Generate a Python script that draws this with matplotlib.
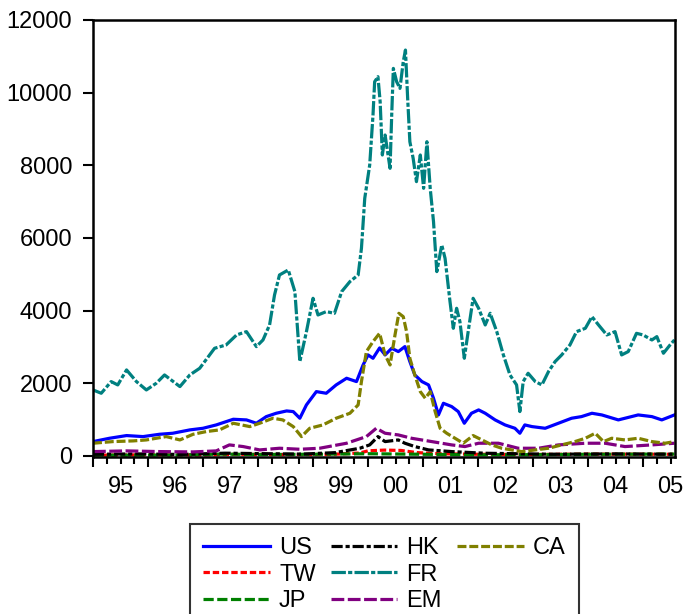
import matplotlib
matplotlib.use("Agg")
import matplotlib.pyplot as plt
from matplotlib.lines import Line2D

plt.rcParams['font.family'] = ['Liberation Sans', 'DejaVu Sans']

# values (fractional year, index level)
us_t = [1995.00, 1995.30, 1995.61, 1995.91, 1996.21, 1996.45, 1996.76, 1997.00, 1997.24, 1997.55,
        1997.79, 1997.97, 1998.15, 1998.33, 1998.52, 1998.64, 1998.76, 1998.88, 1999.06, 1999.24,
        1999.42, 1999.61, 1999.79, 1999.91, 2000.00, 2000.09, 2000.21, 2000.31, 2000.43, 2000.55,
        2000.67, 2000.76, 2000.85, 2000.98, 2001.10, 2001.19, 2001.28, 2001.37, 2001.52, 2001.64,
        2001.75, 2001.88, 2002.01, 2002.13, 2002.31, 2002.49, 2002.67, 2002.76, 2002.85, 2002.98,
        2003.22, 2003.46, 2003.70, 2003.88, 2004.07, 2004.25, 2004.55, 2004.91, 2005.16, 2005.34,
        2005.57]
us_v = [394, 486, 560, 532, 596, 624, 716, 761, 853, 1009,
        991, 899, 1082, 1174, 1238, 1220, 1037, 1404, 1770, 1725,
        1954, 2138, 2046, 2504, 2780, 2688, 2972, 2780, 2963, 2872,
        3009, 2596, 2229, 2046, 1954, 1587, 1128, 1449, 1358, 1220,
        899, 1174, 1266, 1174, 991, 853, 761, 624, 853, 807,
        761, 899, 1037, 1082, 1174, 1128, 991, 1128, 1082, 991,
        1128]

tw_t = [1995.0, 1996.0, 1997.0, 1997.6, 1998.5, 1999.3, 1999.85, 2000.0, 2000.3, 2000.6,
        2000.9, 2001.3, 2002.0, 2003.0, 2004.0, 2005.57]
tw_v = [20, 30, 25, 45, 35, 40, 80, 140, 160, 150,
        90, 60, 45, 40, 50, 45]

jp_t = [1995.0, 1996.5, 1997.3, 1998.0, 1999.0, 2000.0, 2001.0, 2002.0, 2003.0, 2004.0, 2005.57]
jp_v = [20, 25, 50, 40, 45, 60, 45, 30, 35, 45, 50]

hk_t = [1995.0, 1995.8, 1996.6, 1997.4, 1998.2, 1998.8, 1999.4, 1999.85, 2000.03, 2000.18,
        2000.31, 2000.55, 2000.67, 2000.85, 2001.10, 2001.52, 2002.13, 2003.34, 2004.5, 2005.57]
hk_v = [45, 55, 40, 75, 60, 50, 90, 211, 303, 532,
        394, 440, 349, 257, 165, 119, 73, 46, 55, 46]

fr_t = [1995.00, 1995.15, 1995.33, 1995.45, 1995.61, 1995.79, 1995.97, 1996.15, 1996.30, 1996.58,
        1996.76, 1996.94, 1997.21, 1997.42, 1997.61, 1997.79, 1997.97, 1998.09, 1998.21, 1998.30,
        1998.39, 1998.55, 1998.67, 1998.76, 1998.88, 1999.00, 1999.09, 1999.24, 1999.39, 1999.52,
        1999.67, 1999.82, 1999.88, 1999.94, 2000.03, 2000.09, 2000.12, 2000.18, 2000.22, 2000.26,
        2000.31, 2000.40, 2000.43, 2000.46, 2000.52, 2000.58, 2000.64, 2000.68, 2000.72, 2000.76,
        2000.82, 2000.88, 2000.95, 2001.01, 2001.07, 2001.13, 2001.19, 2001.25, 2001.34, 2001.40,
        2001.49, 2001.55, 2001.61, 2001.67, 2001.75, 2001.82, 2001.91, 2002.01, 2002.13, 2002.22,
        2002.34, 2002.46, 2002.58, 2002.70, 2002.76, 2002.82, 2002.91, 2003.04, 2003.16, 2003.28,
        2003.40, 2003.52, 2003.67, 2003.79, 2003.95, 2004.07, 2004.19, 2004.34, 2004.49, 2004.61,
        2004.73, 2004.88, 2005.00, 2005.16, 2005.25, 2005.37, 2005.49, 2005.57]
fr_v = [1816, 1725, 2046, 1954, 2367, 2046, 1816, 2000, 2229, 1908,
        2229, 2413, 2963, 3055, 3330, 3421, 3009, 3192, 3605, 4431,
        4981, 5119, 4522, 2596, 3421, 4339, 3880, 3972, 3926, 4522,
        4798, 4981, 5715, 7091, 8008, 9384, 10301, 10439, 9751, 8284,
        8834, 7917, 9384, 10668, 10301, 10118, 10852, 11173, 9843, 8650,
        8192, 7550, 8284, 7367, 8650, 7367, 6449, 5073, 5807, 5440,
        4247, 3513, 4064, 3697, 2688, 3421, 4339, 4064, 3605, 3926,
        3421, 2780, 2229, 1954, 1220, 2046, 2275, 2046, 1954, 2321,
        2596, 2780, 3055, 3421, 3513, 3834, 3605, 3330, 3421, 2780,
        2872, 3375, 3330, 3192, 3284, 2826, 3055, 3192]

em_t = [1995.00, 1995.61, 1996.21, 1996.82, 1997.24, 1997.48, 1997.73, 1998.03, 1998.39, 1998.76,
        1999.12, 1999.61, 1999.97, 2000.15, 2000.31, 2000.55, 2000.79, 2001.16, 2001.52, 2001.76,
        2002.01, 2002.37, 2002.73, 2003.10, 2003.46, 2003.95, 2004.31, 2004.67, 2005.16, 2005.57]
em_v = [119, 138, 119, 110, 138, 303, 257, 165, 211, 183,
        211, 349, 532, 761, 624, 578, 486, 394, 303, 257,
        349, 349, 211, 211, 303, 349, 349, 257, 303, 349]

ca_t = [1995.00, 1995.36, 1995.73, 1995.97, 1996.33, 1996.58, 1996.82, 1997.06, 1997.30, 1997.55,
        1997.85, 1998.03, 1998.27, 1998.45, 1998.64, 1998.79, 1998.94, 1999.18, 1999.42, 1999.67,
        1999.82, 1999.88, 1999.97, 2000.09, 2000.21, 2000.31, 2000.40, 2000.49, 2000.56, 2000.64,
        2000.70, 2000.76, 2000.85, 2000.95, 2001.04, 2001.13, 2001.22, 2001.31, 2001.43, 2001.58,
        2001.73, 2001.91, 2002.07, 2002.25, 2002.43, 2002.61, 2002.79, 2003.04, 2003.28, 2003.52,
        2003.76, 2003.95, 2004.13, 2004.28, 2004.43, 2004.67, 2004.91, 2005.16, 2005.40, 2005.57]
ca_v = [349, 394, 413, 440, 532, 440, 596, 670, 716, 899,
        807, 899, 1037, 991, 807, 532, 761, 853, 1037, 1174,
        1404, 2046, 2872, 3146, 3376, 2780, 2504, 3330, 3926, 3834,
        3421, 2688, 2229, 1770, 1587, 1770, 1220, 761, 624, 486,
        349, 560, 440, 303, 211, 165, 119, 165, 211, 303,
        394, 486, 624, 394, 486, 440, 486, 394, 349, 394]

years = list(range(1995, 2006))
year_labels = ['95', '96', '97', '98', '99', '00', '01', '02', '03', '04', '05']

fig = plt.figure(figsize=(6.85, 6.14), dpi=100)
ax = fig.add_axes([93 / 685, 1 - 457 / 614, (675 - 93) / 685, (457 - 20) / 614])

lw = 2.3
ax.plot(us_t, us_v, color='#0000ff', lw=lw, label='US')
ax.plot(tw_t, tw_v, color='#ff0000', lw=lw, dashes=(2.0, 0.9), label='TW')
ax.plot(jp_t, jp_v, color='#008000', lw=lw, dashes=(3.2, 1.1), label='JP')
ax.plot(hk_t, hk_v, color='black', lw=lw, dashes=(3.5, 0.9, 1.3, 0.9), label='HK')
ax.plot(fr_t, fr_v, color='#008080', lw=lw, dashes=(4.5, 0.7, 1.3, 0.7), label='FR')
ax.plot(em_t, em_v, color='#800080', lw=lw, dashes=(4.0, 1.1), label='EM')
ax.plot(ca_t, ca_v, color='#808000', lw=lw, dashes=(2.8, 0.9), label='CA')

ax.set_xlim(1995, 2005.58)
ax.set_ylim(-30, 12000)
ax.set_yticks(range(0, 12001, 2000))

# year boundaries get long ticks, quarters short ones; labels sit mid-year
ax.set_xticks(years, [''] * len(years))
quarters = []
qlabels = []
for y, lab in zip(years, year_labels):
    for q in (0.25, 0.5, 0.75):
        if y + q <= 2005.58:
            quarters.append(y + q)
            qlabels.append(lab if q == 0.5 else '')
ax.set_xticks(quarters, qlabels, minor=True)

ax.tick_params(axis='x', which='major', direction='out', length=7.5, width=1.5)
ax.tick_params(axis='x', which='minor', direction='out', length=5, width=1.5, pad=9, labelsize=17)
ax.tick_params(axis='y', which='major', direction='out', length=7, width=1.5, pad=8, labelsize=17)
for sp in ax.spines.values():
    sp.set_linewidth(1.8)

# legend: three columns (US/TW/JP, HK/FR/EM, CA) -> pad the last column with blanks
handles, labels = ax.get_legend_handles_labels()
blank = Line2D([], [], color='none')
handles = handles + [blank, blank]
labels = labels + ['', '']
leg = fig.legend(handles, labels, loc='upper left', bbox_to_anchor=(190 / 685, 1 - 524 / 614), ncol=3,
                 fontsize=17, frameon=True, fancybox=False, edgecolor='black',
                 handlelength=2.8, handletextpad=0.4, columnspacing=0.65,
                 labelspacing=0.18, borderpad=0.57, borderaxespad=0)
leg.get_frame().set_linewidth(1.5)

fig.savefig('out.png', dpi=100)
